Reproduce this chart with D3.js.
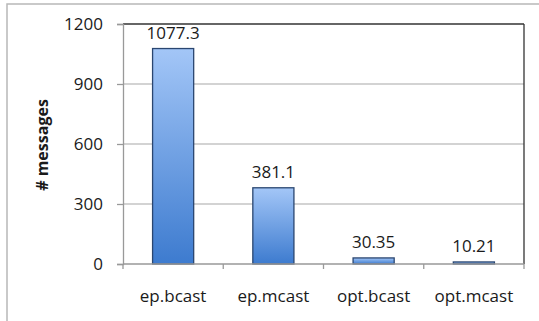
<!DOCTYPE html>
<html>
<head>
<meta charset="utf-8">
<script src="https://cdn.jsdelivr.net/npm/d3@7"></script>
<style>
html,body{margin:0;padding:0;background:#fff;}
svg{display:block;}
text{font-family:"Open Sans",sans-serif;fill:#1a1a1a;}
</style>
</head>
<body>
<svg id="c" width="539" height="321"></svg>
<script>
const categories = ["ep.bcast", "ep.mcast", "opt.bcast", "opt.mcast"];
const values = [1077.3, 381.1, 30.35, 10.21];
const valueLabels = ["1077.3", "381.1", "30.35", "10.21"];
const yTicks = [0, 300, 600, 900, 1200];
const yTitle = "# messages";

const svg = d3.select("#c");
const m = {left:123, top:24, right:524, bottom:264};

// outer frame
svg.append("rect").attr("x",7).attr("y",4).attr("width",545).attr("height",330)
  .attr("fill","none").attr("stroke","#b8b8b8").attr("stroke-width",1.5);

const defs = svg.append("defs");
const g = defs.append("linearGradient").attr("id","bg").attr("x1",0).attr("y1",0).attr("x2",0).attr("y2",1);
g.append("stop").attr("offset","0%").attr("stop-color","#a3c6f7");
g.append("stop").attr("offset","100%").attr("stop-color","#3d7bcf");

const x = d3.scaleBand().domain(categories).range([m.left, m.right]).paddingInner(0).paddingOuter(0);
const y = d3.scaleLinear().domain([0,1200]).range([m.bottom, m.top]);

// gridlines
svg.append("g").selectAll("line").data(yTicks.filter(t=>t>0 && t<1200)).join("line")
  .attr("x1",m.left).attr("x2",m.right).attr("y1",d=>y(d)).attr("y2",d=>y(d))
  .attr("stroke","#a8a8a8").attr("stroke-width",1.2);

// plot top and right border (dark)
svg.append("line").attr("x1",m.left).attr("x2",m.right).attr("y1",y(1200)).attr("y2",y(1200))
  .attr("stroke","#333").attr("stroke-width",1.3);
svg.append("line").attr("x1",m.right).attr("x2",m.right).attr("y1",m.top).attr("y2",m.bottom)
  .attr("stroke","#333").attr("stroke-width",1.3);

// bars
const bw = x.bandwidth()*0.41;
svg.append("g").selectAll("rect").data(values).join("rect")
  .attr("x",(d,i)=>x(categories[i]) + x.bandwidth()/2 - bw/2)
  .attr("width",bw)
  .attr("y",d=>y(d))
  .attr("height",d=>y(0)-y(d))
  .attr("fill","url(#bg)")
  .attr("stroke","#2a4670").attr("stroke-width",1.3);

// value labels
svg.append("g").selectAll("text").data(values).join("text")
  .attr("x",(d,i)=>x(categories[i]) + x.bandwidth()/2)
  .attr("y",d=>y(d)-10)
  .attr("text-anchor","middle")
  .attr("font-size","17px")
  .text((d,i)=>valueLabels[i]);

// y axis
const ya = d3.axisLeft(y).tickValues(yTicks).tickSize(6).tickPadding(14).tickFormat(d3.format("d"));
const yg = svg.append("g").attr("transform",`translate(${m.left},0)`).call(ya);
yg.select(".domain").attr("stroke","#999").attr("stroke-width",1.3);
yg.selectAll(".tick line").attr("stroke","#999").attr("stroke-width",1.3);
yg.selectAll(".tick text").attr("font-size","17px").attr("font-family","Open Sans, sans-serif").attr("fill","#1a1a1a");

// x axis
const xg = svg.append("g").attr("transform",`translate(0,${m.bottom})`);
xg.append("line").attr("x1",m.left).attr("x2",m.right).attr("stroke","#999").attr("stroke-width",1.3);
const bounds = categories.map(c=>x(c)).concat([m.right]);
xg.selectAll("line.t").data(bounds).join("line").attr("class","t")
  .attr("x1",d=>d).attr("x2",d=>d).attr("y1",0).attr("y2",5)
  .attr("stroke","#999").attr("stroke-width",1.3);
xg.selectAll("text").data(categories).join("text")
  .attr("x",d=>x(d)+x.bandwidth()/2).attr("y",38)
  .attr("text-anchor","middle").attr("font-size","17px").text(d=>d);

// y title
svg.append("text").attr("transform","translate(48,145) rotate(-90)")
  .attr("text-anchor","middle").attr("font-size","16px").attr("font-weight","bold").text(yTitle);
</script>
</body>
</html>
